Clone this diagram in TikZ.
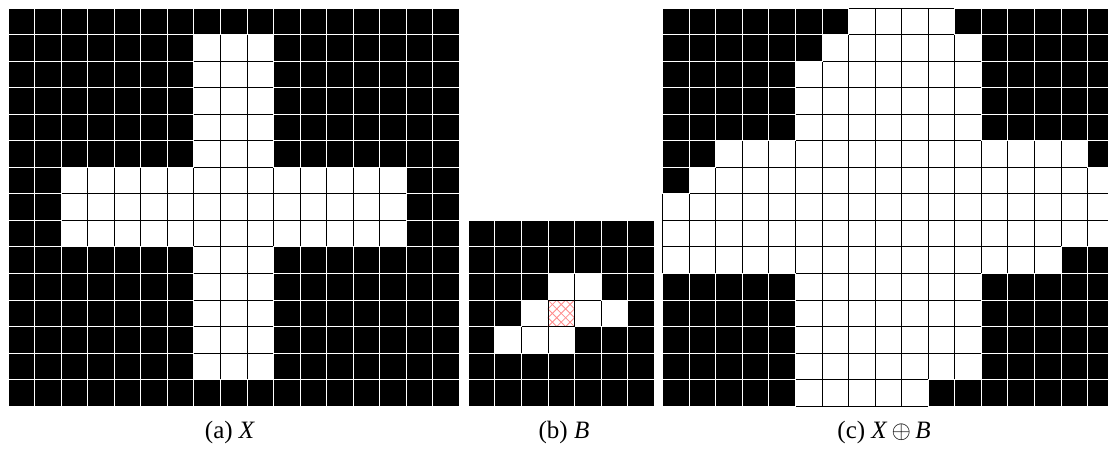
\documentclass[tikz,border=0pt]{standalone}
\usepackage{fontspec}
\setmainfont{Liberation Serif}
\begin{document}
\begin{tikzpicture}[x=1pt,y=-1pt,
  whitecell/.style={fill=white,draw=black,line width=0.9pt},
  blackcell/.style={fill=black,draw=white,line width=0.9pt},
  hatchline/.style={draw=red!45,line width=0.8pt},
  caption/.style={font=\fontsize{25}{28}\selectfont,anchor=base}]
\def\a{26.55}
\useasboundingbox (0,0) rectangle (1108,454);
\clip (0,0) rectangle (1108,454);
% ---------- (a) X ----------
\begin{scope}[shift={(8,8)}]
  \foreach \r in {0,...,14}{\foreach \c in {0,...,16}{
    \path[whitecell] (\c*\a,\r*\a) rectangle ++(\a,\a);}}
  \foreach \r/\ca/\cb in {0/0/16,1/0/6,1/10/16,2/0/6,2/10/16,3/0/6,3/10/16,
      4/0/6,4/10/16,5/0/6,5/10/16,6/0/1,6/15/16,7/0/1,7/15/16,8/0/1,8/15/16,
      9/0/6,9/10/16,10/0/6,10/10/16,11/0/6,11/10/16,12/0/6,12/10/16,
      13/0/6,13/10/16,14/0/16}{
    \foreach \c in {\ca,...,\cb}{
      \path[blackcell] (\c*\a,\r*\a) rectangle ++(\a,\a);}}
\end{scope}
% ---------- (b) B ----------
\begin{scope}[shift={(468.3,220.4)}]
  \foreach \r in {0,...,6}{\foreach \c in {0,...,6}{
    \path[whitecell] (\c*\a,\r*\a) rectangle ++(\a,\a);}}
  \foreach \r/\ca/\cb in {0/0/6,1/0/6,2/0/2,2/5/6,3/0/1,3/6/6,4/0/0,4/4/6,5/0/6,6/0/6}{
    \foreach \c in {\ca,...,\cb}{
      \path[blackcell] (\c*\a,\r*\a) rectangle ++(\a,\a);}}
  \begin{scope}
    \clip (3*\a,3*\a) rectangle ++(\a,\a);
    \foreach \k in {-4,...,7}{
      \path[hatchline] (3*\a+\k*8.85,3*\a) -- ++(\a,\a);
      \path[hatchline] (3*\a+\k*8.85,3*\a) -- ++(-\a,\a);}
  \end{scope}
  \draw[black,line width=0.9pt] (3*\a,3*\a) rectangle ++(\a,\a);
\end{scope}
% ---------- (c) X + B ----------
\begin{scope}[shift={(662.7,8)}]
  \foreach \r in {0,...,14}{\foreach \c in {0,...,16}{
    \path[whitecell] (\c*\a,\r*\a) rectangle ++(\a,\a);}}
  \foreach \r/\ca/\cb in {0/0/6,0/11/16,1/0/5,1/12/16,2/0/4,2/12/16,3/0/4,3/12/16,
      4/0/4,4/12/16,5/0/1,5/16/16,6/0/0,9/15/16,
      10/0/4,10/12/16,11/0/4,11/12/16,12/0/4,12/12/16,13/0/4,13/12/16,
      14/0/4,14/10/16}{
    \foreach \c in {\ca,...,\cb}{
      \path[blackcell] (\c*\a,\r*\a) rectangle ++(\a,\a);}}
\end{scope}
% ---------- captions ----------
\node[caption] (capa) at (230,438) {(a) \textit{X}};
\node[caption] (capb) at (564,438) {(b) \textit{B}};
\node[caption] (capc) at (884,438) {(c) \textit{X}\,$\oplus$\,\textit{B}};
\end{tikzpicture}
\end{document}
